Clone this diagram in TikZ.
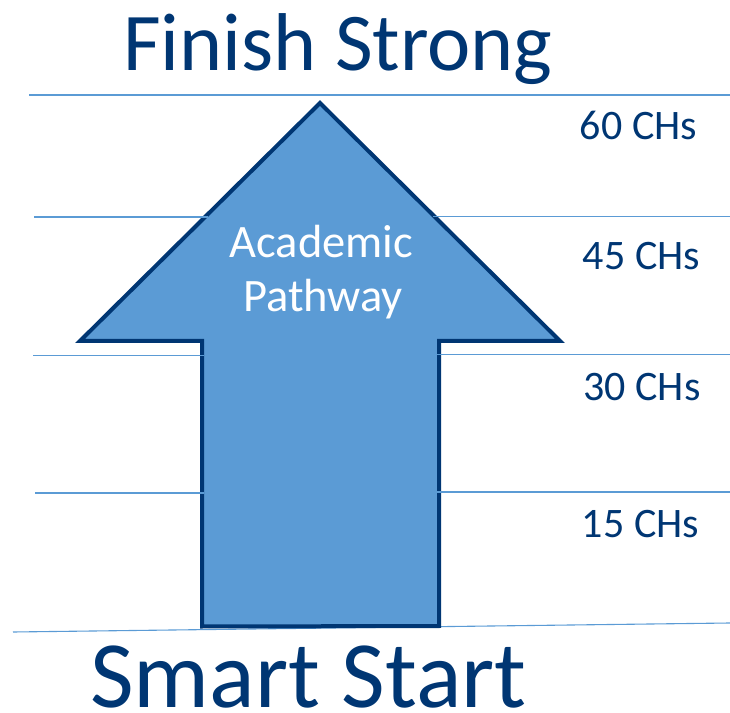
\documentclass[tikz,border=0pt]{standalone}
\usepackage{fontspec}
\setmainfont{Carlito}
\definecolor{navy}{HTML}{003673}
\definecolor{fillblue}{HTML}{5B9BD5}
\definecolor{ruleblue}{HTML}{5B9BD5}
\begin{document}
\begin{tikzpicture}[x=1pt,y=1pt,
  rule/.style={draw=ruleblue,line width=1.1pt},
  arrowbody/.style={draw=navy,fill=fillblue,line width=4pt,line join=miter},
  bigtitle/.style={text=navy,anchor=base,inner sep=0pt},
  chlabel/.style={text=navy,anchor=base,inner sep=0pt,font=\fontsize{42}{46}\selectfont},
  inlabel/.style={text=white,anchor=base,inner sep=0pt,font=\fontsize{46.5}{50}\selectfont}]
\useasboundingbox (0,0) rectangle (730,712);
% arrow corners
\coordinate (tip) at (320,609);
\coordinate (lw) at (80,371);
\coordinate (sl) at (202,371);
\coordinate (bl) at (202,85.5);
\coordinate (br) at (439,86);
\coordinate (sr) at (439,371);
\coordinate (rw) at (560,371);
% bottom rule (behind arrow)
\coordinate (b5l) at (13,80);
\coordinate (b5r) at (730,89);
\draw[rule] (b5l) -- (b5r);
% arrow
\draw[arrowbody] (tip) -- (rw) -- (sr) -- (br) -- (bl) -- (sl) -- (lw) -- cycle;
% rules
\coordinate (r1l) at (29,617);
\coordinate (r1r) at (730,617);
\draw[rule] (r1l) -- (r1r);
\coordinate (r2l) at (34,495);
\coordinate (r2a) at (208,495);
\coordinate (r2b) at (433,495.5);
\coordinate (r2r) at (730,495.5);
\draw[rule] (r2l) -- (r2a);
\draw[rule] (r2b) -- (r2r);
\coordinate (r3l) at (33,356.5);
\coordinate (r3a) at (204,356.5);
\coordinate (r3b) at (437,357.5);
\coordinate (r3r) at (730,357.5);
\draw[rule] (r3l) -- (r3a);
\draw[rule] (r3b) -- (r3r);
\coordinate (r4l) at (35,219);
\coordinate (r4a) at (204,219);
\coordinate (r4b) at (437,220);
\coordinate (r4r) at (730,220);
\draw[rule] (r4l) -- (r4a);
\draw[rule] (r4b) -- (r4r);
% titles
\node[bigtitle,font=\fontsize{82}{86}\selectfont] (finish) at (338,641.5) {Finish Strong};
\node[bigtitle,font=\fontsize{95}{100}\selectfont] (smart) at (308.5,5) {Smart Start};
% credit-hour labels
\node[chlabel] (c60) at (638.5,572) {60 CHs};
\node[chlabel] (c45) at (641.5,442) {45 CHs};
\node[chlabel] (c30) at (642,311) {30 CHs};
\node[chlabel] (c15) at (640.5,175) {15 CHs};
% inside arrow
\node[inlabel] (acad) at (321.5,454) {Academic};
\node[inlabel] (path) at (323,400) {Pathway};
\end{tikzpicture}
\end{document}
